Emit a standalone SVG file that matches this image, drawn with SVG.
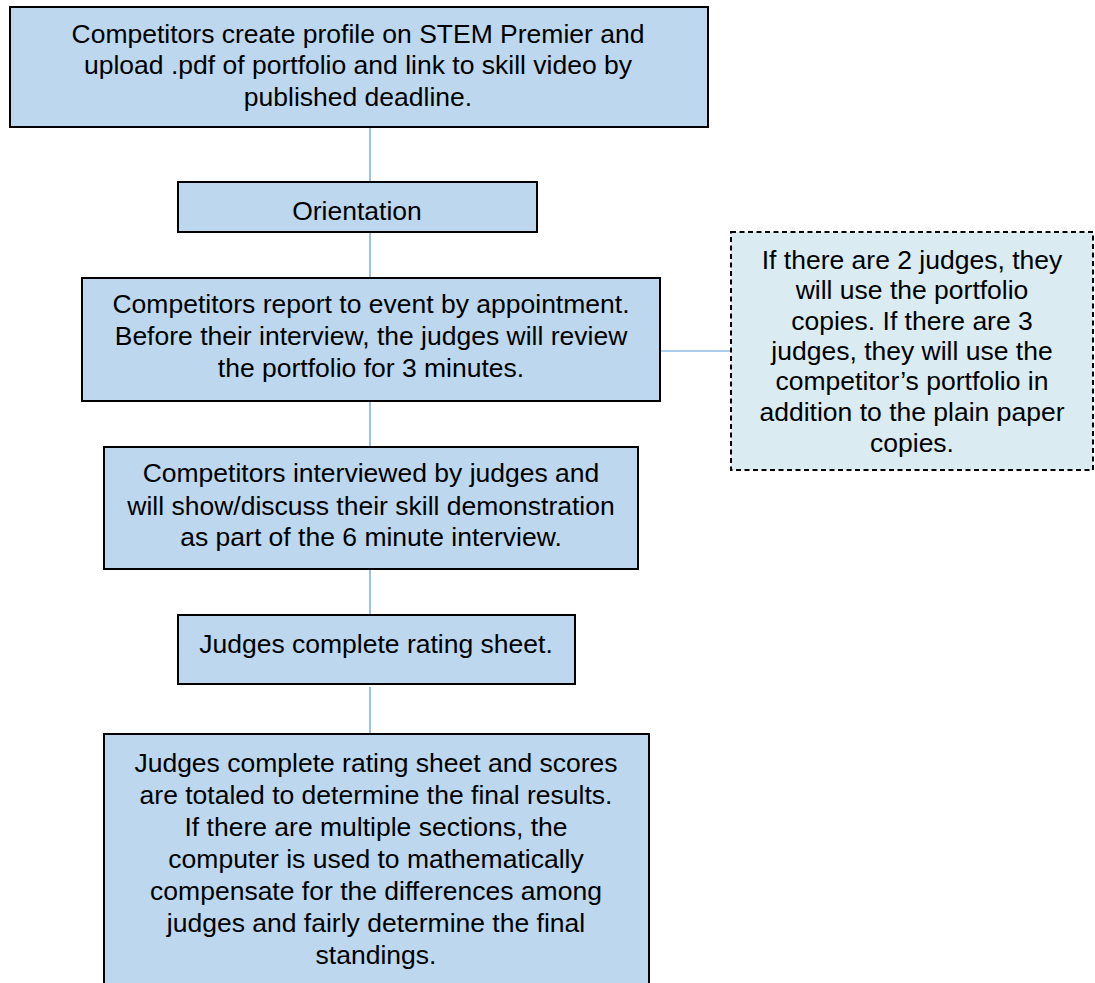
<svg xmlns="http://www.w3.org/2000/svg" width="1095" height="983" viewBox="0 0 1095 983">
<style>
.box{fill:#bdd7ee;stroke:#000;stroke-width:2}
.note{fill:#daebf2;stroke:#000;stroke-width:2;stroke-dasharray:5,3.5}
.t{font-family:"Liberation Sans",Arial,sans-serif;font-size:26.5px;fill:#000;text-anchor:middle}
.c{stroke:#5b9bd5;stroke-width:1.2;fill:none}
</style>
<rect width="1095" height="983" fill="#fff"/>
<g id="connectors">
<line class="c" x1="370" y1="127" x2="370" y2="182"/>
<line class="c" x1="370" y1="232" x2="370" y2="278"/>
<line class="c" x1="370" y1="401" x2="370" y2="447"/>
<line class="c" x1="370" y1="569" x2="370" y2="615"/>
<line class="c" x1="370" y1="687" x2="370" y2="734"/>
<line class="c" x1="660" y1="351" x2="731" y2="351"/>
</g>
<g id="n1">
<rect class="box" x="10" y="7" width="698" height="120"/>
<text class="t" x="358" y="43">Competitors create profile on STEM Premier and</text>
<text class="t" x="358" y="74">upload .pdf of portfolio and link to skill video by</text>
<text class="t" x="358" y="106">published deadline.</text>
</g>
<g id="n2">
<rect class="box" x="178" y="182" width="359" height="50"/>
<text class="t" x="357" y="220">Orientation</text>
</g>
<g id="n3">
<rect class="box" x="82" y="278" width="578" height="123"/>
<text class="t" x="371" y="313">Competitors report to event by appointment.</text>
<text class="t" x="371" y="345">Before their interview, the judges will review</text>
<text class="t" x="371" y="377">the portfolio for 3 minutes.</text>
</g>
<g id="note">
<rect class="note" x="731" y="232" width="362" height="238"/>
<text class="t" x="912" y="269">If there are 2 judges, they</text>
<text class="t" x="912" y="299">will use the portfolio</text>
<text class="t" x="912" y="330">copies. If there are 3</text>
<text class="t" x="912" y="360">judges, they will use the</text>
<text class="t" x="912" y="390">competitor’s portfolio in</text>
<text class="t" x="912" y="421">addition to the plain paper</text>
<text class="t" x="912" y="452">copies.</text>
</g>
<g id="n4">
<rect class="box" x="104" y="447" width="534" height="122"/>
<text class="t" x="371" y="482">Competitors interviewed by judges and</text>
<text class="t" x="371" y="515">will show/discuss their skill demonstration</text>
<text class="t" x="371" y="546">as part of the 6 minute interview.</text>
</g>
<g id="n5">
<rect class="box" x="178" y="615" width="397" height="69"/>
<text class="t" x="376" y="653">Judges complete rating sheet.</text>
</g>
<g id="n6">
<rect class="box" x="104" y="734" width="545" height="260"/>
<text class="t" x="376" y="772">Judges complete rating sheet and scores</text>
<text class="t" x="376" y="804">are totaled to determine the final results.</text>
<text class="t" x="376" y="836">If there are multiple sections, the</text>
<text class="t" x="376" y="868">computer is used to mathematically</text>
<text class="t" x="376" y="900">compensate for the differences among</text>
<text class="t" x="376" y="932">judges and fairly determine the final</text>
<text class="t" x="376" y="964">standings.</text>
</g>
</svg>
